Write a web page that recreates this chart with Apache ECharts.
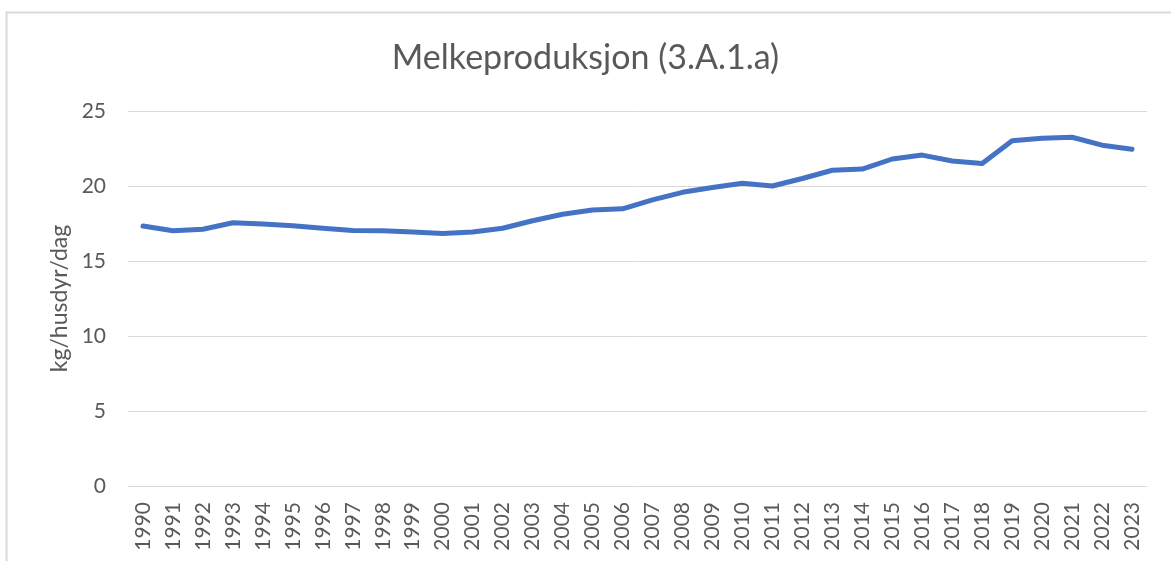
<!DOCTYPE html>
<html>
<head>
<meta charset="utf-8">
<script src="https://cdn.jsdelivr.net/npm/echarts@6/dist/echarts.min.js"></script>
<style>
  html, body { margin: 0; padding: 0; background: #fff; }
  #chart { width: 1171px; height: 561px; }
</style>
</head>
<body>
<div id="chart"></div>
<script>
const years = [
  '1990', '1991', '1992', '1993', '1994', '1995', '1996', '1997', '1998', '1999',
  '2000', '2001', '2002', '2003', '2004', '2005', '2006', '2007', '2008', '2009',
  '2010', '2011', '2012', '2013', '2014', '2015', '2016', '2017', '2018', '2019',
  '2020', '2021', '2022', '2023',
];
const melk = [
  17.33, 17.02, 17.12, 17.55, 17.46, 17.35, 17.18, 17.04, 17.02, 16.93,
  16.84, 16.93, 17.18, 17.68, 18.12, 18.4, 18.48, 19.07, 19.58, 19.9,
  20.18, 20.0, 20.5, 21.05, 21.13, 21.8, 22.06, 21.67, 21.5, 23.02,
  23.18, 23.25, 22.72, 22.45,
];
const yTicks = { min: 0, max: 25, interval: 5 };

const font = 'Lato, "Open Sans", sans-serif';
const grey = '#595959';

const chart = echarts.init(document.getElementById('chart'));
chart.setOption({
  animation: false,
  backgroundColor: '#fff',
  graphic: [
    {
      type: 'rect',
      shape: { x: 6.5, y: 12.5, width: 1300, height: 700 },
      style: { fill: 'none', stroke: '#d9d9d9', lineWidth: 2 },
      silent: true,
    },
  ],
  title: {
    text: 'Melkeproduksjon (3.A.1.a)',
    left: 'center',
    top: 36,
    textStyle: { color: grey, fontFamily: font, fontWeight: 'normal', fontSize: 34 },
  },
  grid: { left: 128, right: 24, top: 111, bottom: 75, containLabel: false },
  xAxis: {
    type: 'category',
    data: years,
    boundaryGap: true,
    axisLine: { show: true, lineStyle: { color: '#d9d9d9', width: 1 } },
    axisTick: { show: false },
    axisLabel: {
      rotate: 90,
      interval: 0,
      margin: 16,
      color: grey,
      fontFamily: font,
      fontSize: 21,
    },
  },
  yAxis: {
    type: 'value',
    min: yTicks.min,
    max: yTicks.max,
    interval: yTicks.interval,
    name: 'kg/husdyr/dag',
    nameLocation: 'middle',
    nameGap: 56,
    nameTextStyle: { color: grey, fontFamily: font, fontSize: 23 },
    axisLine: { show: false },
    axisTick: { show: false },
    axisLabel: { color: grey, fontFamily: font, fontSize: 21, margin: 22 },
    splitLine: { lineStyle: { color: '#d9d9d9', width: 1 } },
  },
  series: [
    {
      name: 'Melkeproduksjon',
      type: 'line',
      data: melk,
      symbol: 'none',
      smooth: false,
      lineStyle: { color: '#4472c4', width: 5, cap: 'round', join: 'round' },
    },
  ],
});
</script>
</body>
</html>
